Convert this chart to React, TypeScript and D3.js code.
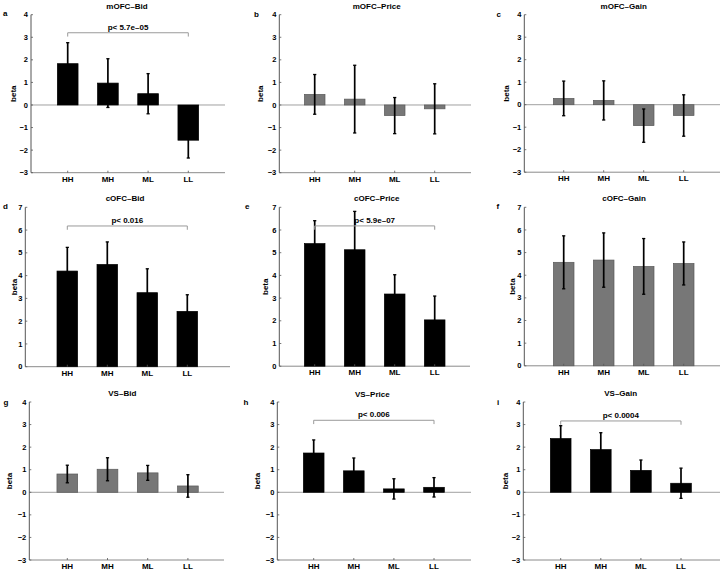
import React from "react";
import * as d3 from "d3";

const categories = ["HH", "MH", "ML", "LL"];

const titles = ["mOFC\u2013Bid", "mOFC\u2013Price", "mOFC\u2013Gain", "cOFC\u2013Bid", "cOFC\u2013Price", "cOFC\u2013Gain", "VS\u2013Bid", "VS\u2013Price", "VS\u2013Gain"];
const letters = ["a", "b", "c", "d", "e", "f", "g", "h", "i"];

const meansA = [1.83, 0.97, 0.5, -1.56];
const errsA = [0.93, 1.08, 0.89, 0.79];
const meansB = [0.47, 0.26, -0.47, -0.17];
const errsB = [0.88, 1.5, 0.8, 1.11];
const meansC = [0.28, 0.19, -0.93, -0.48];
const errsC = [0.77, 0.87, 0.74, 0.92];
const meansD = [4.2, 4.49, 3.25, 2.43];
const errsD = [1.04, 0.99, 1.05, 0.73];
const meansE = [5.4, 5.13, 3.18, 2.04];
const errsE = [1.01, 1.69, 0.85, 1.05];
const meansF = [4.57, 4.67, 4.39, 4.52];
const errsF = [1.17, 1.2, 1.23, 0.95];
const meansG = [0.81, 1.02, 0.86, 0.28];
const errsG = [0.39, 0.51, 0.33, 0.5];
const meansH = [1.74, 0.95, 0.15, 0.22];
const errsH = [0.58, 0.57, 0.45, 0.43];
const meansI = [2.38, 1.89, 0.97, 0.4];
const errsI = [0.57, 0.75, 0.46, 0.67];

const allMeans = [meansA, meansB, meansC, meansD, meansE, meansF, meansG, meansH, meansI];
const allErrs = [errsA, errsB, errsC, errsD, errsE, errsF, errsG, errsH, errsI];
const barDark = [true, false, false, true, true, false, false, true, true];

const yDomains = [[-3, 4], [-3, 4], [-3, 4], [0, 7], [0, 7], [0, 7], [-3, 4], [-3, 4], [-3, 4]];
const yTicksList = [
  [-3, -2, -1, 0, 1, 2, 3, 4], [-3, -2, -1, 0, 1, 2, 3, 4], [-3, -2, -1, 0, 1, 2, 3, 4],
  [0, 1, 2, 3, 4, 5, 6, 7], [0, 1, 2, 3, 4, 5, 6, 7], [0, 1, 2, 3, 4, 5, 6, 7],
  [-3, -2, -1, 0, 1, 2, 3, 4], [-3, -2, -1, 0, 1, 2, 3, 4], [-3, -2, -1, 0, 1, 2, 3, 4],
];

// significance brackets
const sigPanels = [0, 3, 4, 7, 8];
const sigLevels = [3.2, 6.18, 6.18, 3.19, 3.16];
const sigLabels = ["p< 5.7e\u201305", "p< 0.016", "p< 5.9e\u201307", "p< 0.006", "p< 0.0004"];

// layout (pixels)
const layouts = [
  { axL: 31, axR: 225, yT: 14.7, yB: 172.7, c1: 67.7, sp: 40.2, titleX: 127, titleY: 8.5, letX: 3, letY: 16, betaX: 13 },
  { axL: 279.3, axR: 471, yT: 14.7, yB: 172.7, c1: 314.7, sp: 40, titleX: 376.7, titleY: 8.5, letX: 254, letY: 17, betaX: 260 },
  { axL: 524.3, axR: 725, yT: 14.7, yB: 172.2, c1: 563.7, sp: 40, titleX: 623.7, titleY: 8.5, letX: 496.5, letY: 17, betaX: 505.5 },
  { axL: 25.3, axR: 230, yT: 207.3, yB: 366.7, c1: 67.3, sp: 40, titleX: 125, titleY: 200.5, letX: 3, letY: 209, betaX: 14 },
  { axL: 279.3, axR: 470, yT: 207.3, yB: 366.2, c1: 314.7, sp: 40, titleX: 376.7, titleY: 201.3, letX: 245, letY: 209, betaX: 264.5 },
  { axL: 524.3, axR: 725, yT: 207.3, yB: 365.8, c1: 563.7, sp: 40, titleX: 624, titleY: 200.5, letX: 496.5, letY: 209, betaX: 512 },
  { axL: 29.3, axR: 224, yT: 402, yB: 560, c1: 67.3, sp: 40.2, titleX: 122.3, titleY: 395.8, letX: 3.5, letY: 405, betaX: 9 },
  { axL: 277.3, axR: 471, yT: 402, yB: 560, c1: 313.7, sp: 40.1, titleX: 372.3, titleY: 396.5, letX: 243.5, letY: 405, betaX: 256.5 },
  { axL: 523.3, axR: 725, yT: 402, yB: 560, c1: 560.7, sp: 40.1, titleX: 620.7, titleY: 395.8, letX: 497, letY: 405, betaX: 504.5 },
];

const FONT = "'Liberation Sans', Arial, Helvetica, sans-serif";

function Panel({ idx }: { idx: number }) {
  const L = layouts[idx];
  const means = allMeans[idx];
  const errs = allErrs[idx];
  const y = d3.scaleLinear().domain(yDomains[idx]).range([L.yB, L.yT]);
  const x = d3.scaleLinear().domain([1, 4]).range([L.c1, L.c1 + 3 * L.sp]);
  const bw = L.sp * 0.515;
  const dark = barDark[idx];
  const sigI = sigPanels.indexOf(idx);
  const axisColor = "#555";
  const cap = 1.6;
  return (
    <g>
      <text x={L.titleX} y={L.titleY} textAnchor="middle" fontSize={8} fontWeight="bold" fontFamily={FONT}>{titles[idx]}</text>
      <text x={L.letX} y={L.letY} fontSize={8} fontWeight="bold" fontFamily={FONT}>{letters[idx]}</text>
      <text transform={`translate(${L.betaX + 3},${(L.yT + L.yB) / 2}) rotate(-90)`} textAnchor="middle" fontSize={8} fontWeight="bold" fontFamily={FONT}>beta</text>
      <line x1={L.axL} x2={L.axR} y1={L.yB} y2={L.yB} stroke="#8a8a8a" strokeWidth={1} />
      {yDomains[idx][0] < 0 && (
        <line x1={L.axL} x2={L.axR} y1={y(0)} y2={y(0)} stroke="#a0a0a0" strokeWidth={1} />
      )}
      {means.map((m, i) => (
        <rect key={"b" + i} x={x(i + 1) - bw / 2} width={bw} y={Math.min(y(m), y(0))} height={Math.abs(y(m) - y(0))}
          fill={dark ? "#000" : "#777"} stroke={dark ? "#000" : "#5a5a5a"} strokeWidth={0.7} />
      ))}
      {means.map((m, i) => {
        const cx = x(i + 1);
        const top = y(m + errs[i]);
        const bot = y(m - errs[i]);
        return (
          <g key={"e" + i} stroke="#000">
            <line x1={cx} x2={cx} y1={top} y2={bot} strokeWidth={1.7} />
            <line x1={cx - cap} x2={cx + cap} y1={top} y2={top} strokeWidth={1.3} />
            <line x1={cx - cap} x2={cx + cap} y1={bot} y2={bot} strokeWidth={1.3} />
          </g>
        );
      })}
      <line x1={L.axL} x2={L.axL} y1={L.yT} y2={L.yB} stroke={axisColor} strokeWidth={1} />
      {yTicksList[idx].map((t) => (
        <g key={"t" + t}>
          <line x1={L.axL} x2={L.axL + 2} y1={y(t)} y2={y(t)} stroke={axisColor} strokeWidth={0.8} />
          <text x={L.axL - 3} y={y(t) + 2.6} textAnchor="end" fontSize={7.5} fontWeight="bold" fontFamily={FONT}>
            {t < 0 ? "\u2212" + Math.abs(t) : String(t)}
          </text>
        </g>
      ))}
      {categories.map((c, i) => (
        <g key={"c" + i}>
          <line x1={x(i + 1)} x2={x(i + 1)} y1={L.yB} y2={L.yB - 2} stroke={axisColor} strokeWidth={0.8} />
          <text x={x(i + 1)} y={L.yB + 9.2} textAnchor="middle" fontSize={8} fontWeight="bold" fontFamily={FONT}>{c}</text>
        </g>
      ))}
      {sigI >= 0 && (
        <g>
          <path d={`M${x(1)},${y(sigLevels[sigI]) + 3.8}V${y(sigLevels[sigI])}H${x(4)}V${y(sigLevels[sigI]) + 3.8}`}
            fill="none" stroke="#9a9a9a" strokeWidth={1} />
          <text x={(x(1) + x(4)) / 2} y={y(sigLevels[sigI]) - 3} textAnchor="middle" fontSize={8} fontWeight="bold" fontFamily={FONT}>{sigLabels[sigI]}</text>
        </g>
      )}
    </g>
  );
}

export default function App() {
  return (
    <svg width={720} height={570} style={{ position: "absolute", left: 0, top: 0, background: "#fff" }}>
      <rect width={720} height={570} fill="#fff" />
      {layouts.map((_, i) => (
        <Panel key={i} idx={i} />
      ))}
    </svg>
  );
}
